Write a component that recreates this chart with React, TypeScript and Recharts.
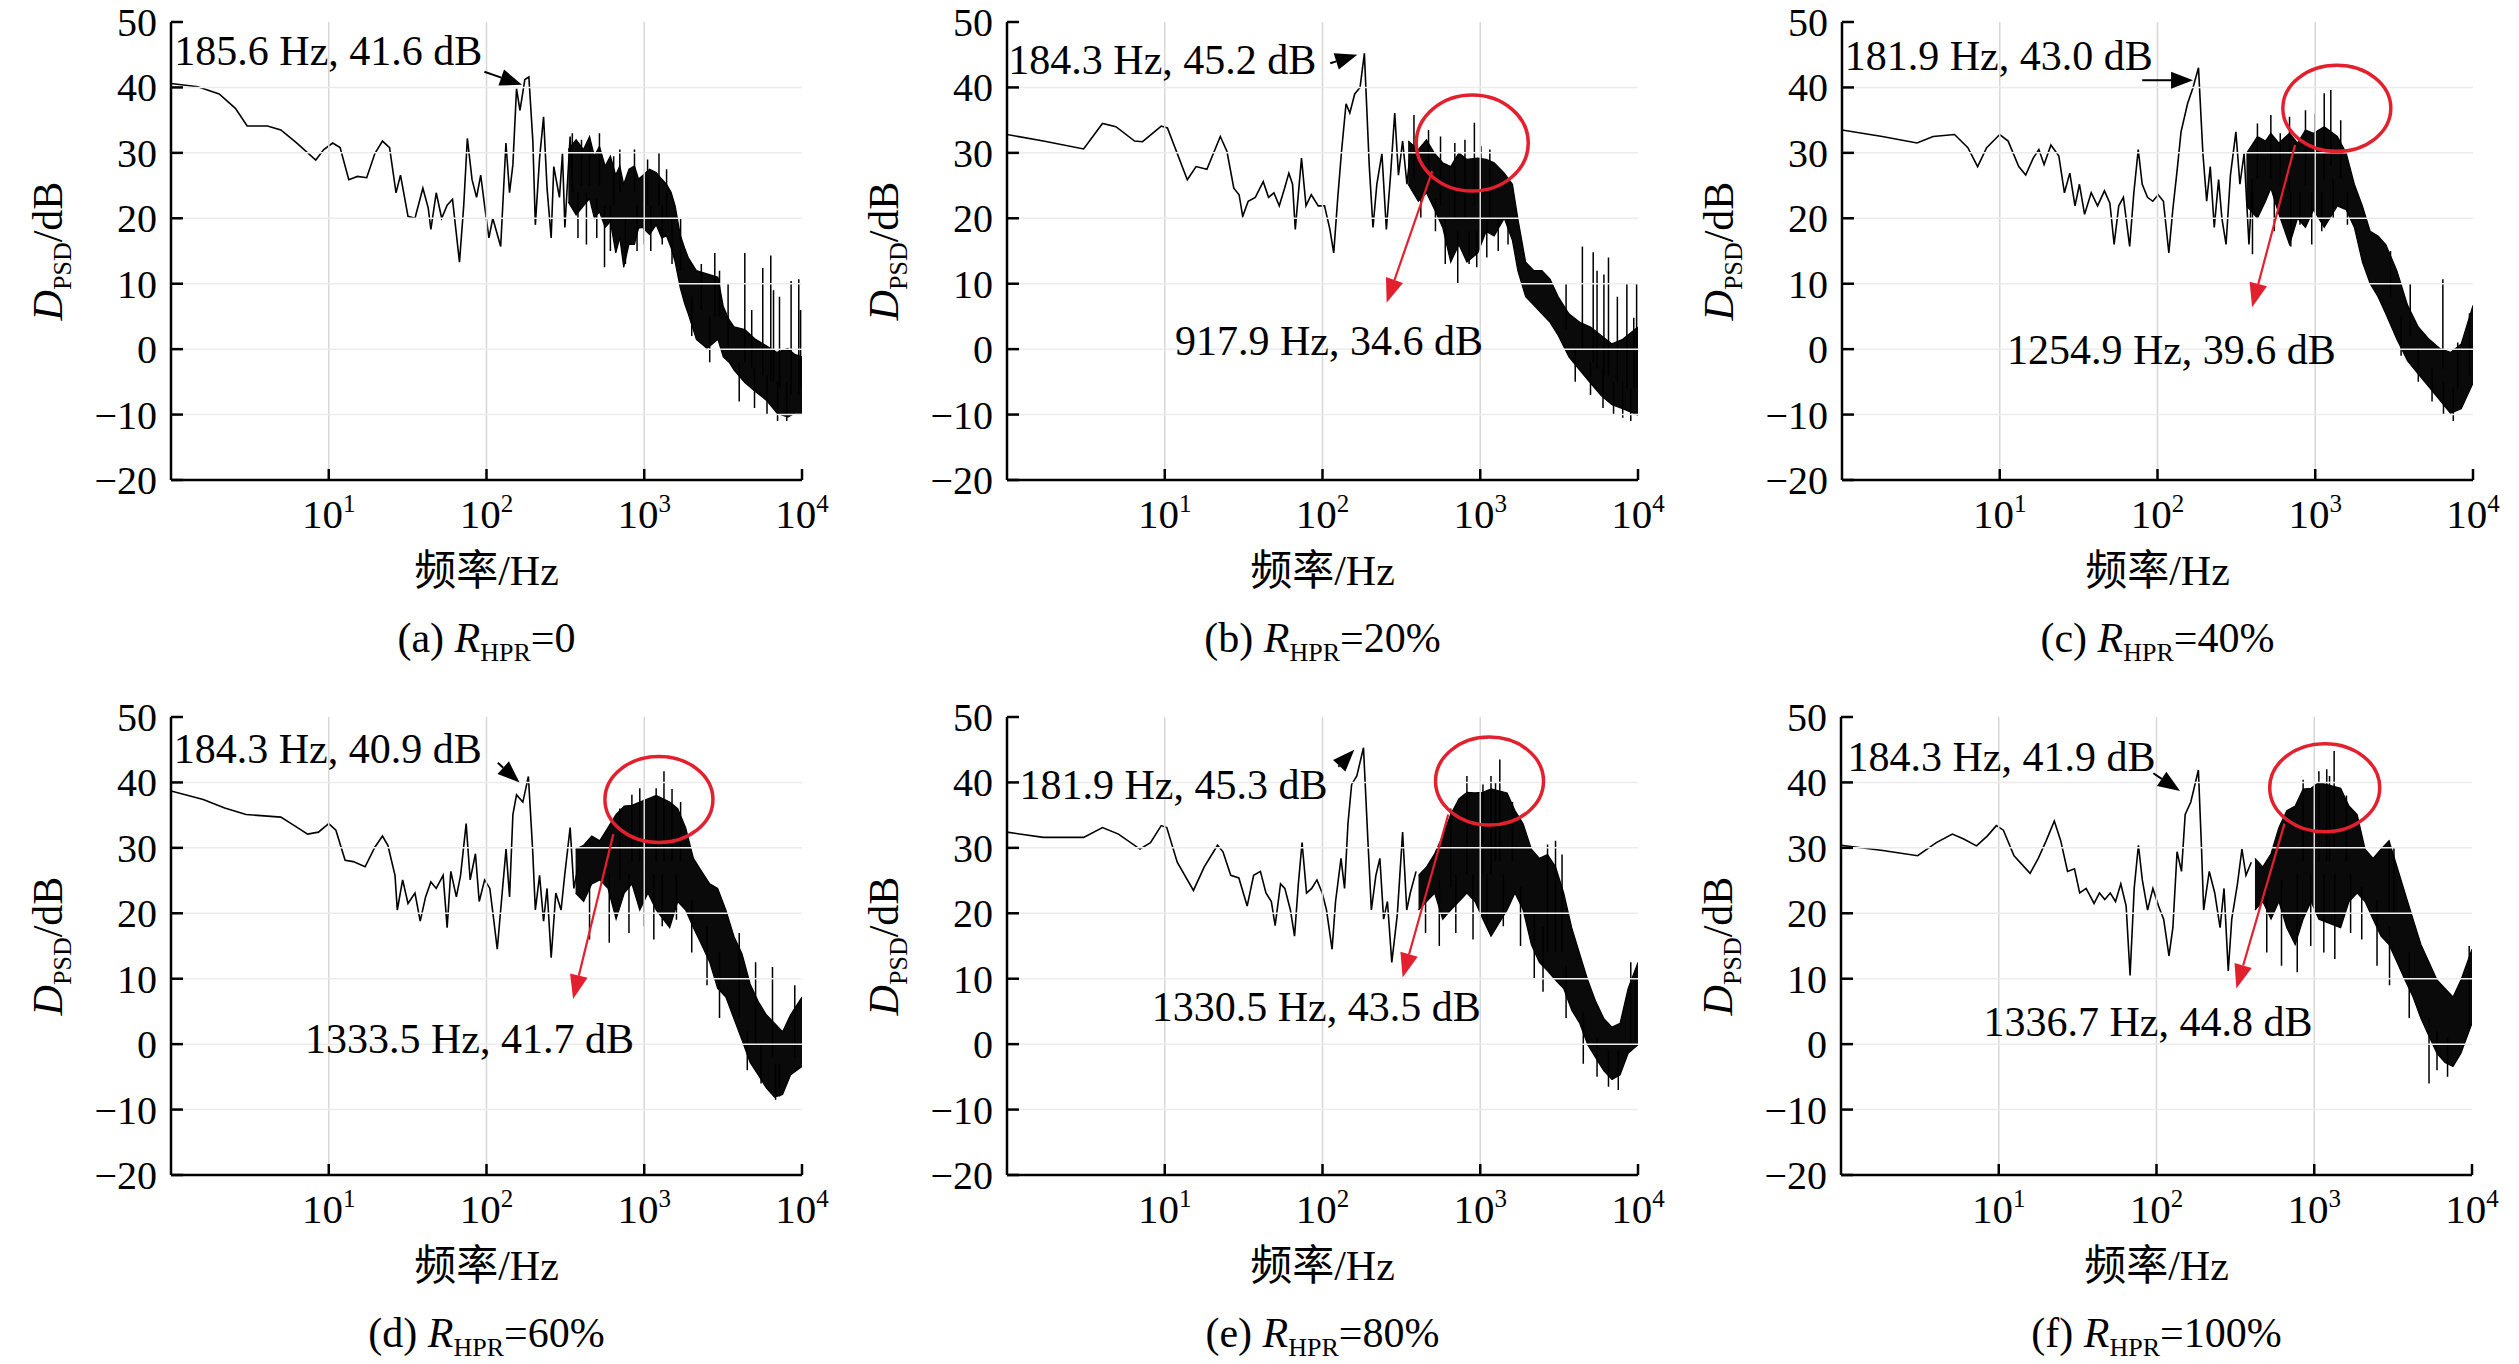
import React from 'react';
import { ComposedChart, Line, Area, XAxis, YAxis, ReferenceLine, ReferenceDot } from 'recharts';

const FONT = '"Liberation Serif", "Times New Roman", "Noto Sans CJK SC", serif';

// axes
const xTicks = [10, 100, 1000, 10000];
const xGrid = [10, 100, 1000];
const yTicks = [-20, -10, 0, 10, 20, 30, 40, 50];
const yGrid = [-10, 0, 10, 20, 30, 40];

// (a) R_HPR = 0  — [Hz, dB]
const traceA = [
  [1.0, 40.6], [1.48, 40.1], [2.02, 39.0], [2.56, 36.8], [3.04, 34.1], [4.09, 34.1], [4.97, 33.5],
  [6.28, 31.5], [8.27, 28.9], [9.3, 30.5], [10.6, 31.5], [11.8, 30.8], [13.4, 25.9], [15.2, 26.4],
  [17.4, 26.2], [19.6, 29.9], [21.9, 31.8], [24.3, 30.8], [26.7, 23.9], [28.5, 26.6], [31.8, 20.3],
  [35.2, 20.0], [39.5, 24.6], [42.7, 21.6], [44.4, 18.3], [48.0, 23.9], [52.0, 20.0], [56.3, 22.0],
  [60.9, 22.9], [67.4, 13.3], [71.7, 21.9], [75.6, 32.2], [81.0, 25.9], [86.5, 23.2], [91.9, 26.6],
  [97.3, 21.9], [103.6, 17.0], [109.6, 20.0], [123, 15.7], [132.8, 31.5], [140, 23.9], [147, 28.2],
  [155, 39.8], [163, 36.5], [175, 41.2], [185.6, 41.6], [196.7, 31.8], [204, 19.0], [217, 29.2],
  [230, 35.5], [242, 24.6], [257, 17.0], [267, 27.9], [290, 23.2], [303, 29.9], [314, 18.6],
  [339, 32.5], [352, 24.0],
];
// dense part — [Hz, low dB, high dB]
const bandA = [
  [330, 22.5, 30.5], [370, 20.5, 32.0], [412, 21.9, 30.5], [450, 23.0, 32.5], [483, 20.0, 29.5],
  [520, 21.0, 31.0], [565, 18.6, 28.0], [610, 19.5, 29.5], [660, 14.7, 26.6], [700, 17.0, 28.0],
  [741, 12.5, 25.2], [800, 16.0, 27.5], [867, 16.0, 28.0], [920, 18.5, 26.0], [975, 18.6, 26.5],
  [1080, 17.5, 27.5], [1190, 19.0, 27.0], [1290, 17.0, 26.0], [1385, 17.3, 25.2], [1480, 15.5, 24.0],
  [1570, 13.3, 21.9], [1690, 9.4, 17.5], [1800, 7.0, 15.5], [1900, 5.4, 14.0], [2140, 1.5, 12.0],
  [2500, 0.1, 11.5], [2930, 1.5, 11.0], [3170, -1.2, 6.5], [3450, -2.0, 4.5], [3710, -3.2, 3.4],
  [4340, -5.1, 3.0], [5080, -6.5, 1.5], [5940, -7.8, 0.5], [6950, -9.8, -0.5], [8130, -10.4, 0.1],
  [9000, -9.8, -0.8], [10000, -9.8, -1.2],
];
// single strokes poking out of the band — [Hz, foot dB, tip dB]
const spikesA = [
  [350, 26, 33.0], [380, 24, 17.0], [400, 25, 32.0], [430, 24, 16.0], [450, 25, 31.5], [500, 23, 17.0],
  [520, 25, 33.0], [560, 22, 12.5], [610, 22, 15.0], [640, 22, 29.5], [700, 24, 30.5], [760, 20, 13.0],
  [867, 24, 30.5], [900, 22, 15.0], [1000, 22, 16.0], [1050, 22, 29.0], [1100, 22, 15.0], [1240, 22, 30.0],
  [1300, 22, 16.0], [1385, 20, 27.5], [1500, 20, 13.0], [1700, 12, 20.0], [2000, 8, 2.0], [2300, 6, 13.0],
  [2600, 5, -2.0], [2800, 5, 14.7], [3000, 5, 12.0], [3400, 0, 10.0], [4000, -2, -8.0], [4340, -2, 14.7],
  [4800, -3, 6.0], [5000, -3, -9.0], [5640, -4, 12.4], [6000, -4, -10.0], [6340, -5, 14.3], [6600, -5, 9.0],
  [7000, -5, -11.0], [7200, -6, 8.0], [8000, -5, -11.0], [8530, -7, 10.4], [9540, -7, 10.7], [9800, -6, 6.0],
];

// (b) R_HPR = 20%
const traceB = [
  [1.0, 32.8], [1.7, 31.8], [3.06, 30.6], [4.03, 34.5], [4.9, 34.0], [6.44, 31.8], [7.23, 31.7],
  [9.5, 34.1], [10.4, 33.8], [13.9, 25.9], [15.8, 27.9], [18.5, 27.5], [22.5, 32.5], [24.8, 30.2],
  [27.4, 24.6], [29.6, 23.6], [31.2, 20.3], [33.8, 22.6], [37.5, 23.2], [42.1, 25.6], [45.5, 23.2],
  [49.2, 23.9], [53.2, 21.9], [57.5, 24.6], [61.2, 26.9], [64.6, 25.2], [67.2, 18.3], [73.6, 29.2],
  [78.6, 21.9], [84.9, 23.6], [94.0, 21.9], [103, 21.9], [111.4, 18.3], [117.8, 14.7], [125, 23.2],
  [132, 30.2], [141, 37.5], [149, 36.1], [160, 39.0], [173, 40.0], [184.3, 45.2], [198, 27.9],
  [209, 18.6], [221, 25.2], [238, 29.9], [254, 18.3], [270, 26.6], [287, 36.1], [303, 26.6],
  [322, 31.8], [343, 25.2], [360, 30.0],
];
const bandB = [
  [349, 25.2, 31.8], [405, 22.6, 30.5], [456, 23.9, 32.0], [514, 21.3, 29.9], [578, 18.6, 28.5],
  [650, 13.3, 27.9], [732, 16.0, 30.0], [823, 13.3, 29.0], [965, 14.7, 29.2], [1090, 18.0, 29.0],
  [1225, 17.3, 28.5], [1420, 20.0, 26.9], [1600, 16.6, 25.2], [1730, 12.0, 20.0], [1940, 8.0, 13.3],
  [2190, 6.7, 12.0], [2460, 5.4, 12.0], [2770, 4.1, 10.7], [3120, 2.1, 8.0], [3650, -1.2, 5.4],
  [4270, -3.2, 4.1], [5000, -5.2, 3.4], [5840, -7.1, 2.1], [6840, -8.5, 0.8], [8000, -9.1, 1.5],
  [10000, -10.1, 3.4],
];
const spikesB = [
  [380, 26, 35.8], [420, 24, 20.0], [470, 25, 33.5], [520, 23, 18.0], [560, 22, 32.5], [600, 20, 13.0],
  [690, 20, 31.5], [720, 18, 10.0], [800, 20, 32.0], [850, 18, 13.0], [917.9, 22, 34.6], [950, 18, 12.5],
  [1010, 20, 31.0], [1100, 20, 14.0], [1150, 20, 30.5], [1300, 20, 15.0], [1500, 20, 16.0], [3500, 3, 10.0],
  [4000, 0, -5.0], [4440, 0, 15.7], [5000, -2, -7.0], [5200, -2, 14.8], [5500, -3, 12.0], [6000, -3, -9.0],
  [6080, -4, 11.4], [6500, -4, 14.0], [7000, -5, -10.0], [7400, -5, 8.0], [8000, -5, -10.5], [8500, -6, 10.0],
  [9000, -6, -11.0], [9400, -6, 4.8], [9800, -6, 10.0],
];

// (c) R_HPR = 40%
const traceC = [
  [1.0, 33.5], [1.8, 32.5], [2.99, 31.5], [3.78, 32.5], [5.17, 32.8], [6.28, 30.8], [7.24, 27.9],
  [8.26, 30.8], [10.0, 32.8], [11.3, 31.8], [13.2, 27.9], [14.6, 26.6], [16.3, 29.2], [17.7, 30.5],
  [19.1, 28.2], [21.1, 31.2], [23.7, 29.5], [25.7, 23.9], [27.8, 26.9], [30.0, 21.9], [32.0, 25.2],
  [34.5, 20.6], [38.0, 23.9], [41.7, 21.9], [46.1, 24.2], [49.9, 22.3], [53.1, 16.0], [56.8, 21.9],
  [60.8, 23.2], [66.6, 15.7], [70.8, 23.9], [75.5, 30.5], [80, 25.2], [86.4, 23.2], [93.4, 22.6],
  [101, 23.6], [109, 22.6], [118, 14.7], [125, 21.3], [133, 27.2], [141, 33.2], [155, 37.5],
  [168, 40.0], [181.9, 43.0], [194, 29.9], [205, 22.6], [216, 27.9], [229, 18.6], [244, 25.9],
  [256, 20.0], [272, 16.0], [290, 26.6], [314, 33.2], [333, 25.2], [354, 29.9], [380, 16.0], [400, 26.0],
];
const bandC = [
  [366, 21.9, 29.9], [430, 20.0, 32.5], [484, 22.6, 31.8], [523, 24.6, 33.0], [589, 20.6, 31.5],
  [687, 16.0, 33.0], [772, 20.0, 31.5], [867, 18.6, 33.5], [975, 21.3, 33.0], [1140, 18.6, 34.0],
  [1380, 21.9, 32.5], [1570, 21.3, 30.0], [1770, 18.6, 25.2], [1990, 13.3, 21.9], [2230, 10.0, 18.0],
  [2500, 8.0, 17.3], [2800, 5.4, 16.0], [3290, 1.5, 12.0], [3850, -1.8, 6.7], [4500, -3.8, 3.4],
  [5270, -5.8, 1.5], [6160, -7.8, 0.1], [7200, -9.8, -0.5], [8420, -9.1, 0.8], [10000, -5.2, 6.7],
];
const spikesC = [
  [400, 24, 14.5], [430, 26, 34.5], [523, 26, 35.8], [550, 24, 18.0], [600, 25, 33.0], [687, 24, 35.5],
  [700, 24, 15.7], [800, 24, 19.0], [867, 25, 36.5], [950, 24, 16.0], [1000, 25, 36.0], [1100, 24, 18.0],
  [1140, 26, 39.1], [1254.9, 28, 39.6], [1300, 26, 20.0], [1450, 26, 35.0], [1600, 24, 19.0], [3000, 8, 15.0],
  [3500, 5, -1.0], [4000, 2, 10.0], [4500, 0, -5.0], [5500, -3, -8.0], [6440, -3, 10.7], [6500, -5, -10.0],
  [7500, -6, -11.0], [8000, -6, 1.0], [9500, -4, 5.5],
];

// (d) R_HPR = 60%
const traceD = [
  [1.0, 38.7], [1.6, 37.4], [2.19, 36.1], [2.99, 35.1], [4.97, 34.7], [6.05, 33.4], [7.35, 32.1],
  [8.6, 32.4], [10.0, 33.7], [11.1, 32.7], [12.7, 28.1], [14.3, 27.9], [17.0, 27.1], [19.6, 30.1],
  [21.9, 31.8], [23.7, 30.4], [26.3, 25.8], [27.2, 20.5], [29.4, 25.1], [31.8, 21.5], [35.2, 23.1],
  [38.0, 18.8], [41.1, 22.5], [44.4, 24.8], [48.0, 23.8], [53.1, 25.8], [56.3, 17.8], [59.4, 26.4],
  [64.4, 22.5], [68.5, 25.8], [74.3, 33.7], [78.8, 25.1], [85.1, 29.1], [89.9, 21.8], [97.3, 25.1],
  [105, 23.8], [111, 19.1], [117, 14.5], [123, 20.5], [133, 29.8], [140, 22.5], [147, 35.1],
  [155, 38.1], [170, 37.0], [184.3, 40.9], [196, 29.8], [204, 20.5], [217, 25.8], [230, 18.8],
  [242, 23.8], [257, 13.2], [275, 23.1], [297, 20.5], [313, 25.8], [339, 33.1], [358, 23.8], [380, 27.0],
];
const bandD = [
  [367, 23.1, 29.8], [413, 21.8, 30.4], [465, 24.5, 31.8], [523, 25.1, 31.1], [589, 23.8, 33.1],
  [663, 19.1, 35.1], [747, 23.1, 36.4], [835, 24.5, 36.5], [937, 20.5, 37.0], [1056, 23.1, 37.5],
  [1190, 20.5, 38.0], [1450, 17.8, 37.0], [1630, 21.8, 36.0], [1830, 20.5, 33.1], [2050, 17.8, 28.4],
  [2310, 15.2, 26.4], [2600, 12.5, 24.5], [2920, 8.5, 23.8], [3290, 7.2, 20.5], [3700, 3.9, 16.5],
  [4170, 0.6, 13.8], [4690, -2.8, 9.2], [5280, -4.7, 6.5], [5940, -6.7, 4.5], [6690, -8.1, 3.2],
  [7530, -7.7, 1.9], [8470, -4.7, 4.5], [10000, -3.4, 7.2],
];
const spikesD = [
  [450, 25, 16.0], [600, 26, 15.5], [700, 25, 36.0], [800, 26, 17.0], [835, 28, 38.1], [937, 28, 39.1],
  [1000, 26, 18.0], [1150, 26, 16.0], [1190, 28, 39.1], [1300, 26, 18.0], [1333.5, 28, 41.7], [1500, 28, 39.0],
  [1600, 26, 19.0], [1700, 28, 37.0], [2000, 22, 14.0], [2500, 18, 9.0], [3000, 14, 4.0], [4000, 4, 17.0],
  [4500, 2, -4.0], [5080, 0, 12.5], [5500, 0, -6.0], [6500, -2, 11.8], [6800, -3, -8.5], [7200, -3, -8.0],
  [9000, -2, 9.0],
];

// (e) R_HPR = 80%
const traceE = [
  [1.0, 32.4], [1.7, 31.6], [3.06, 31.6], [4.03, 33.1], [5.09, 32.1], [6.96, 29.8], [8.12, 30.8],
  [9.5, 33.4], [10.3, 33.1], [12.0, 27.8], [15.2, 23.5], [17.8, 27.1], [21.6, 30.4], [23.4, 29.4],
  [26.2, 25.8], [29.5, 25.4], [33.3, 21.1], [36.6, 25.8], [40.4, 26.4], [43.8, 23.1], [47.4, 21.8],
  [50.1, 18.1], [54.2, 24.5], [57.7, 23.8], [62.6, 20.5], [66.5, 16.5], [70.3, 24.5], [74.2, 30.8],
  [79.2, 23.1], [85.4, 23.8], [92.2, 25.1], [99.6, 23.1], [106, 20.5], [115, 14.5], [121, 21.8],
  [131, 28.4], [138, 23.8], [145, 33.7], [153, 39.7], [165, 41.0], [181.9, 45.3], [194, 31.1],
  [204, 20.5], [218, 25.8], [231, 28.4], [244, 19.1], [258, 21.8], [275, 12.5], [298, 19.8],
  [322, 32.4], [342, 20.5], [360, 23.1], [392, 26.4],
];
const bandE = [
  [406, 20.5, 25.8], [457, 21.8, 27.1], [514, 23.1, 29.1], [578, 19.1, 31.8], [650, 20.5, 35.1],
  [732, 21.8, 37.5], [823, 23.1, 38.5], [927, 21.8, 38.4], [1040, 19.1, 38.5], [1170, 16.5, 39.0],
  [1480, 20.5, 38.4], [1660, 23.1, 35.7], [1870, 20.5, 33.7], [2110, 15.2, 29.8], [2370, 12.5, 28.4],
  [2670, 11.2, 29.0], [3000, 9.8, 27.1], [3380, 8.5, 23.1], [3800, 5.2, 17.8], [4270, 3.2, 13.8],
  [4800, -0.1, 9.8], [5400, -2.1, 6.5], [6080, -4.1, 3.9], [6840, -5.4, 2.6], [7700, -4.7, 3.2],
  [8660, -1.4, 8.5], [10000, -0.1, 12.5],
];
const spikesE = [
  [450, 24, 17.0], [550, 25, 15.0], [650, 24, 36.0], [700, 26, 17.0], [823, 26, 41.0], [900, 26, 16.0],
  [1040, 26, 39.7], [1100, 26, 18.0], [1170, 26, 41.0], [1250, 28, 40.0], [1330.5, 28, 43.5], [1400, 26, 18.0],
  [1600, 28, 37.0], [1800, 24, 15.0], [2200, 20, 10.0], [2500, 18, 8.0], [2670, 14, 30.5], [3000, 14, 31.1],
  [3300, 14, 29.0], [3500, 12, 4.0], [4500, 5, -3.0], [5500, 1, -5.0], [6500, -1, -6.5], [7500, -1, -7.0],
  [9000, 0, 12.5], [9600, 0, 11.0],
];

// (f) R_HPR = 100%
const traceF = [
  [1.0, 30.4], [1.84, 29.6], [3.06, 28.8], [4.02, 30.8], [5.08, 32.1], [5.95, 31.4], [7.23, 30.3],
  [8.45, 31.8], [9.65, 33.4], [10.7, 32.7], [12.5, 28.8], [15.8, 26.1], [17.8, 28.4], [20.0, 31.1],
  [22.5, 34.1], [24.7, 31.1], [27.3, 26.4], [30.2, 26.8], [32.6, 23.1], [35.8, 23.8], [40.2, 21.5],
  [43.5, 23.1], [47.0, 22.1], [50.9, 23.1], [55.0, 21.8], [59.4, 24.5], [64.2, 21.1], [68.0, 10.5],
  [72.2, 23.8], [76.8, 30.4], [81.3, 25.1], [87.8, 20.5], [94.9, 23.8], [103, 21.1], [111, 19.1],
  [120, 13.5], [127, 17.8], [135, 29.4], [144, 26.4], [152, 35.1], [165, 37.0], [184.3, 41.9],
  [193, 29.8], [199, 20.5], [216, 26.4], [234, 23.1], [253, 17.8], [268, 23.8], [285, 11.2],
  [300, 19.1], [326, 24.5], [348, 29.8], [369, 25.8], [399, 27.8],
];
const bandF = [
  [421, 20.5, 28.4], [472, 21.8, 27.1], [532, 19.1, 29.1], [597, 21.8, 33.1], [670, 17.8, 35.7],
  [757, 15.2, 36.4], [850, 19.1, 39.0], [954, 21.8, 39.1], [1070, 19.1, 40.0], [1470, 17.8, 39.1],
  [1660, 21.8, 36.4], [1870, 23.1, 35.1], [2100, 21.8, 29.8], [2360, 19.1, 28.4], [2650, 16.5, 29.8],
  [2980, 15.2, 31.1], [3350, 12.5, 27.1], [3760, 9.8, 23.1], [4230, 7.2, 19.1], [4750, 3.9, 15.2],
  [5340, 1.2, 12.5], [6000, -1.4, 9.8], [6740, -2.8, 8.5], [7580, -3.4, 7.2], [8510, -1.4, 9.8],
  [10000, 3.2, 14.5],
];
const spikesF = [
  [500, 24, 14.0], [620, 25, 12.0], [780, 26, 11.0], [850, 28, 40.4], [950, 26, 15.0], [1070, 28, 41.7],
  [1150, 26, 14.0], [1200, 28, 42.0], [1250, 28, 41.0], [1336.7, 30, 44.8], [1350, 26, 13.0], [1600, 28, 38.0],
  [1700, 26, 17.0], [2000, 24, 16.0], [2500, 22, 12.0], [2980, 20, 31.1], [3000, 18, 9.0], [3200, 20, 30.0],
  [4000, 14, 4.0], [5340, 4, -6.0], [6000, 2, -4.0], [7000, 1, -5.0], [9600, 2, 15.0],
];

const toLine = (pts: number[][]) => pts.map(([f, v]) => ({ f, v }));
const toBand = (pts: number[][]) => pts.map(([f, lo, hi]) => ({ f, range: [lo, hi] }));
const toSpikes = (pts: number[][]) => {
  const out: { f: number; v: number | null }[] = [];
  [...pts].sort((a, b) => a[0] - b[0]).forEach(([f, foot, tip]) => {
    out.push({ f, v: foot }, { f, v: tip }, { f, v: foot }, { f, v: null });
  });
  return out;
};

const RED = '#e3202e';
const PW = 631;
const PH = 458;
const ML = 150; // chart px left of the plot box
const MT = 40; // chart px above the plot box

const panels = [
  {
    id: 'a', ratio: '0', left: 171, top: 22, trace: traceA, band: bandA, spikes: spikesA,
    peak: { text: '185.6 Hz, 41.6 dB', at: [1.05, 43.4], arrow: [[97, 42.4], [168, 40.4]] },
  },
  {
    id: 'b', ratio: '20%', left: 1007, top: 22, trace: traceB, band: bandB, spikes: spikesB,
    peak: { text: '184.3 Hz, 45.2 dB', at: [1.02, 42.1], arrow: [[112, 43.7], [166, 45.0]] },
    hump: { text: '917.9 Hz, 34.6 dB', at: [11.6, -0.9], ring: [890, 31.5, 56, 48], arrow: [[496, 27.2], [255, 7.1]] },
  },
  {
    id: 'c', ratio: '40%', left: 1842, top: 22, trace: traceC, band: bandC, spikes: spikesC,
    peak: { text: '181.9 Hz, 43.0 dB', at: [1.04, 42.7], arrow: [[80, 41.1], [168, 41.1]] },
    hump: { text: '1254.9 Hz, 39.6 dB', at: [11.1, -2.2], ring: [1370, 36.8, 54, 43], arrow: [[745, 31.2], [398, 6.4]] },
  },
  {
    id: 'd', ratio: '60%', left: 171, top: 717, trace: traceD, band: bandD, spikes: spikesD,
    peak: { text: '184.3 Hz, 40.9 dB', at: [1.04, 43.0], arrow: [[118, 43.0], [162, 40.0]] },
    hump: { text: '1333.5 Hz, 41.7 dB', at: [7.07, -1.4], ring: [1239, 37.4, 54, 43], arrow: [[637, 32.1], [354, 6.9]] },
  },
  {
    id: 'e', ratio: '80%', left: 1007, top: 717, trace: traceE, band: bandE, spikes: spikesE,
    peak: { text: '181.9 Hz, 45.3 dB', at: [1.2, 37.4], arrow: [[126, 42.4], [159, 45.0]] },
    hump: { text: '1330.5 Hz, 43.5 dB', at: [8.27, 3.5], ring: [1145, 40.2, 54, 44], arrow: [[627, 35.1], [322, 10.2]] },
  },
  {
    id: 'f', ratio: '100%', left: 1841, top: 717, trace: traceF, band: bandF, spikes: spikesF,
    peak: { text: '184.3 Hz, 41.9 dB', at: [1.1, 41.7], arrow: [[95.5, 41.4], [141, 38.7]] },
    hump: { text: '1336.7 Hz, 44.8 dB', at: [8.0, 1.2], ring: [1165, 39.2, 55, 44], arrow: [[648, 33.7], [321, 8.5]] },
  },
];

const fmtY = (v: number) => (v < 0 ? `\u2212${-v}` : String(v));

const LeftTick = ({ x, y, payload }: any) => (
  <g>
    <line x1={x} x2={x + 12} y1={y} y2={y} stroke="#000" strokeWidth={2.5} />
    <text x={x - 14} y={y} dy={14} textAnchor="end" fontSize={40} fontFamily={FONT} fill="#000">
      {fmtY(payload.value)}
    </text>
  </g>
);
const RightTick = ({ x, y }: any) => <line x1={x} x2={x - 12} y1={y} y2={y} stroke="#000" strokeWidth={2.5} />;
const TopTick = ({ x, y }: any) => <line x1={x} x2={x} y1={y} y2={y + 11} stroke="#000" strokeWidth={2.5} />;
const BottomTick = ({ x, y, payload }: any) => (
  <g>
    <line x1={x} x2={x} y1={y} y2={y - 11} stroke="#000" strokeWidth={2.5} />
    <text x={x} y={y + 48} textAnchor="middle" fontSize={41} fontFamily={FONT} fill="#000">
      10<tspan dy={-16} fontSize={25}>{Math.round(Math.log10(payload.value))}</tspan>
    </text>
  </g>
);

const arrowShape = (color: string, w: number, headLen: number, headW: number) => (p: any) => {
  const { x1, y1, x2, y2 } = p;
  const dx = x2 - x1;
  const dy = y2 - y1;
  const len = Math.hypot(dx, dy) || 1;
  const ux = dx / len;
  const uy = dy / len;
  const bx = x2 - ux * headLen;
  const by = y2 - uy * headLen;
  const nx = (-uy * headW) / 2;
  const ny = (ux * headW) / 2;
  return (
    <g>
      <line x1={x1} y1={y1} x2={bx} y2={by} stroke={color} strokeWidth={w} />
      <polygon points={`${x2},${y2} ${bx + nx},${by + ny} ${bx - nx},${by - ny}`} fill={color} />
    </g>
  );
};

const textShape = (text: string) => (p: any) => (
  <text x={p.cx} y={p.cy} fontSize={42} fontFamily={FONT} fill="#000">{text}</text>
);

const ringShape = (rx: number, ry: number) => (p: any) => (
  <ellipse cx={p.cx} cy={p.cy} rx={rx} ry={ry} fill="none" stroke={RED} strokeWidth={3.5} />
);

const sub = { fontSize: 26, position: 'relative' as const, top: 9 };

function Panel({ cfg }: { cfg: (typeof panels)[number] }) {
  const W = ML + PW + 30;
  const H = MT + PH + 60;
  const frame = { stroke: '#000', strokeWidth: 2.5 };
  return (
    <div style={{ position: 'absolute', left: cfg.left - ML, top: cfg.top - MT, width: W, height: H + 200 }}>
      <ComposedChart width={W} height={H} margin={{ top: MT, right: 30, left: 70, bottom: 0 }}>
        <XAxis
          dataKey="f" type="number" scale="log" domain={[1, 10000]} allowDataOverflow
          ticks={xTicks} interval={0} height={60} tickSize={0} tickMargin={0}
          tickLine={false} axisLine={frame} tick={(p: any) => <BottomTick {...p} />}
        />
        <XAxis
          xAxisId="top" orientation="top" type="number" scale="log" domain={[1, 10000]} allowDataOverflow
          ticks={xGrid} interval={0} height={0} tickSize={0} tickMargin={0}
          tickLine={false} axisLine={frame} tick={(p: any) => <TopTick {...p} />}
        />
        <YAxis
          type="number" domain={[-20, 50]} allowDataOverflow ticks={yTicks} interval={0}
          width={80} tickSize={0} tickMargin={0} tickLine={false} axisLine={frame}
          tick={(p: any) => <LeftTick {...p} />}
        />
        <YAxis
          yAxisId="right" orientation="right" type="number" domain={[-20, 50]} allowDataOverflow
          ticks={yTicks} interval={0} width={0} tickSize={0} tickMargin={0} tickLine={false}
          axisLine={frame} tick={(p: any) => <RightTick {...p} />}
        />

        <Area
          data={toBand(cfg.band)} dataKey="range" type="linear" stroke="#000" strokeWidth={1.2}
          fill="#0a0a0a" fillOpacity={1} dot={false} activeDot={false} isAnimationActive={false}
        />
        <Line
          data={toLine(cfg.trace)} dataKey="v" type="linear" stroke="#000" strokeWidth={1.6}
          dot={false} activeDot={false} isAnimationActive={false}
        />
        <Line
          data={toSpikes(cfg.spikes)} dataKey="v" type="linear" stroke="#000" strokeWidth={1.5}
          dot={false} activeDot={false} connectNulls={false} isAnimationActive={false}
        />

        {xGrid.map((v) => (
          <ReferenceLine key={`gx${v}`} x={v} stroke="#d8d8d8" strokeWidth={1.5} />
        ))}
        {yGrid.map((v) => (
          <ReferenceLine key={`gy${v}`} y={v} stroke="#ececec" strokeWidth={1.5} />
        ))}

        <ReferenceDot x={cfg.peak.at[0]} y={cfg.peak.at[1]} shape={textShape(cfg.peak.text)} />
        <ReferenceLine
          segment={[{ x: cfg.peak.arrow[0][0], y: cfg.peak.arrow[0][1] }, { x: cfg.peak.arrow[1][0], y: cfg.peak.arrow[1][1] }]}
          shape={arrowShape('#000', 2, 22, 17)}
        />
        {cfg.hump && (
          <ReferenceDot x={cfg.hump.ring[0]} y={cfg.hump.ring[1]} shape={ringShape(cfg.hump.ring[2], cfg.hump.ring[3])} />
        )}
        {cfg.hump && (
          <ReferenceLine
            segment={[{ x: cfg.hump.arrow[0][0], y: cfg.hump.arrow[0][1] }, { x: cfg.hump.arrow[1][0], y: cfg.hump.arrow[1][1] }]}
            shape={arrowShape(RED, 2.2, 24, 18)}
          />
        )}
        {cfg.hump && <ReferenceDot x={cfg.hump.at[0]} y={cfg.hump.at[1]} shape={textShape(cfg.hump.text)} />}
      </ComposedChart>

      {/* y axis title */}
      <div
        style={{
          position: 'absolute', left: 27 - 200, top: MT + PH / 2 - 25, width: 400, height: 50,
          lineHeight: '50px', textAlign: 'center', fontSize: 42, transform: 'rotate(-90deg)', whiteSpace: 'nowrap',
        }}
      >
        <i>D</i><span style={sub}>PSD</span>/dB
      </div>
      {/* x axis title */}
      <div
        style={{
          position: 'absolute', left: ML + PW / 2 - 200, top: MT + PH + 105 - 35, width: 400,
          lineHeight: '42px', textAlign: 'center', fontSize: 42, whiteSpace: 'nowrap',
        }}
      >
        频率/Hz
      </div>
      {/* caption */}
      <div
        style={{
          position: 'absolute', left: ML + PW / 2 - 200, top: MT + PH + 172 - 35, width: 400,
          lineHeight: '42px', textAlign: 'center', fontSize: 42, whiteSpace: 'nowrap',
        }}
      >
        ({cfg.id}) <i>R</i><span style={sub}>HPR</span>={cfg.ratio}
      </div>
    </div>
  );
}

export default function App() {
  return (
    <div
      style={{
        position: 'absolute', left: 0, top: 0, width: 2519, height: 1364,
        background: '#fff', fontFamily: FONT, color: '#000', overflow: 'hidden',
      }}
    >
      {panels.map((p) => (
        <Panel key={p.id} cfg={p} />
      ))}
    </div>
  );
}
